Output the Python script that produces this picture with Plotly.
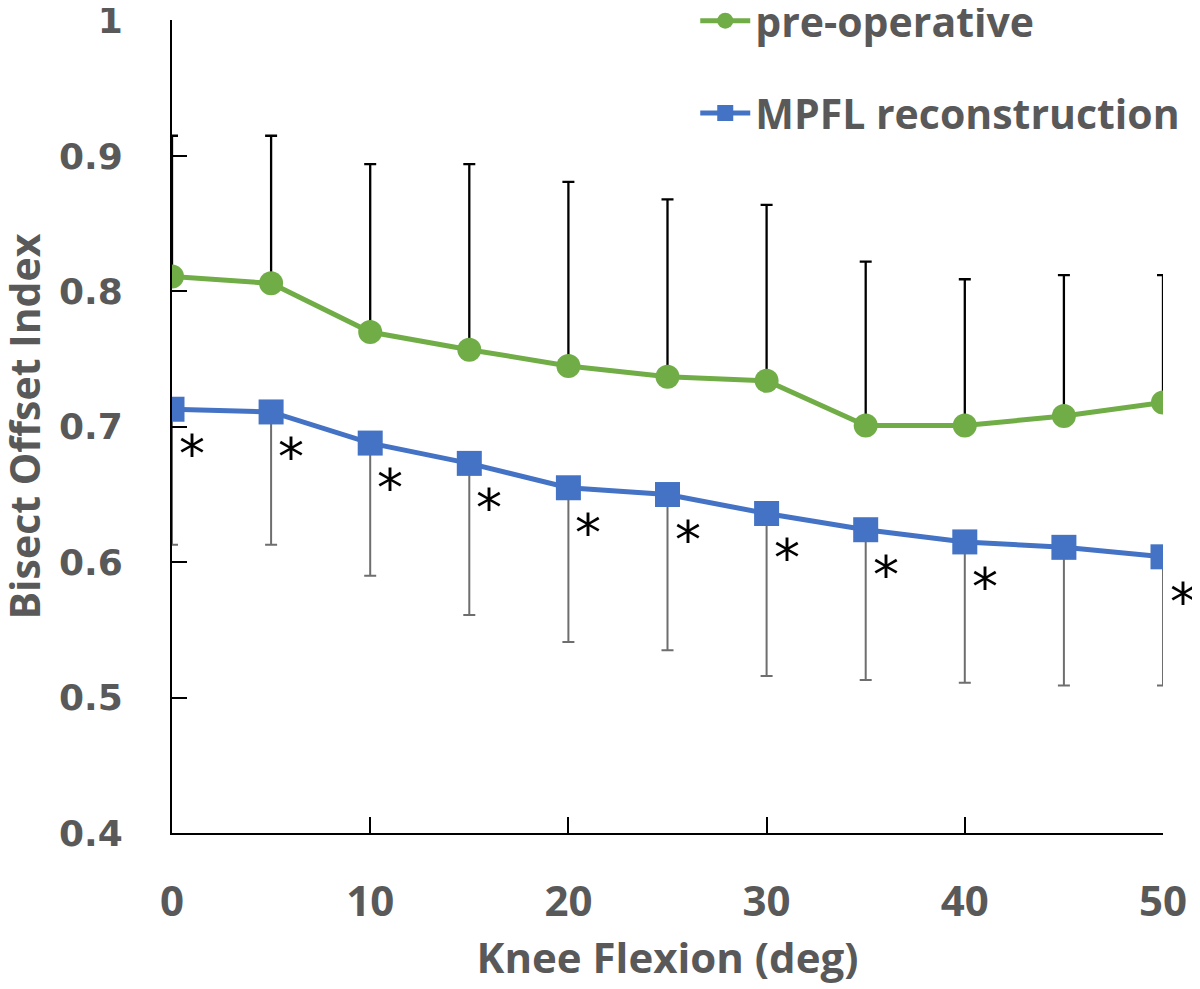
import plotly.graph_objects as go

# Data
angles = [0, 5, 10, 15, 20, 25, 30, 35, 40, 45, 50]
pre_mean = [0.811, 0.806, 0.770, 0.757, 0.745, 0.737, 0.734, 0.701, 0.701, 0.708, 0.718]
pre_upper = [0.915, 0.915, 0.894, 0.894, 0.881, 0.868, 0.864, 0.822, 0.809, 0.812, 0.812]
mpfl_mean = [0.713, 0.711, 0.688, 0.673, 0.655, 0.650, 0.636, 0.624, 0.615, 0.611, 0.604]
mpfl_lower = [0.613, 0.613, 0.590, 0.561, 0.541, 0.535, 0.516, 0.513, 0.511, 0.509, 0.509]
significant = [True, True, True, True, True, True, True, True, True, False, True]

x_ticks = [0, 10, 20, 30, 40, 50]
y_ticks = [0.4, 0.5, 0.6, 0.7, 0.8, 0.9, 1.0]
y_ticktext = ["0.4", "0.5", "0.6", "0.7", "0.8", "0.9", "1"]

x_title = "Knee Flexion (deg)"
y_title = "Bisect Offset Index"

GREEN = "#70AD47"
BLUE = "#4472C4"
GRAY_TXT = "#595959"
SANS = "'Open Sans', Lato, sans-serif"

pre_err = [u - m for u, m in zip(pre_upper, pre_mean)]
mpfl_err = [m - l for m, l in zip(mpfl_mean, mpfl_lower)]

fig = go.Figure()
fig.add_trace(go.Scatter(
    x=angles, y=pre_mean, mode="lines+markers", name="pre-operative",
    legendgroup="a",
    line=dict(color=GREEN, width=5),
    marker=dict(symbol="circle", size=24, color=GREEN),
    error_y=dict(type="data", symmetric=False, array=pre_err,
                 arrayminus=[0] * len(angles), color="black", thickness=2.3, width=6),
))
fig.add_trace(go.Scatter(
    x=angles, y=mpfl_mean, mode="lines+markers", name="MPFL reconstruction",
    legendgroup="b",
    line=dict(color=BLUE, width=5),
    marker=dict(symbol="square", size=25, color=BLUE),
    error_y=dict(type="data", symmetric=False, array=[0] * len(angles),
                 arrayminus=mpfl_err, color="#6e6e6e", thickness=2, width=6),
))

for a, m, s in zip(angles, mpfl_mean, significant):
    if s:
        fig.add_annotation(x=a, y=m, xref="x", yref="y", text="*", showarrow=False,
                           xshift=20, yshift=-45,
                           font=dict(family="DejaVu Sans", size=52, color="black"))

# y-axis title as a rotated annotation (to sit closer to the page edge)
fig.add_annotation(x=0, y=0.5, xref="paper", yref="paper", text=y_title, showarrow=False,
                   textangle=-90, xanchor="center", yanchor="middle", xshift=-149,
                   font=dict(family=SANS, size=41, color=GRAY_TXT, weight="bold"))

fig.update_layout(
    width=1192, height=981,
    margin=dict(l=164, r=37, t=12, b=156, autoexpand=False),
    paper_bgcolor="white", plot_bgcolor="white",
    showlegend=True,
    legend=dict(x=0.528, y=1.04, xanchor="left", yanchor="top",
                font=dict(family=SANS, size=41, color=GRAY_TXT, weight="bold"),
                tracegroupgap=36, itemwidth=50, bgcolor="rgba(0,0,0,0)"),
    xaxis=dict(range=[0, 50], tickvals=x_ticks, ticks="inside", ticklen=16, tickwidth=2,
               tickcolor="black", showline=True, linecolor="black", linewidth=2,
               showgrid=False, zeroline=False, ticklabelstandoff=31, automargin=False,
               ticklabeloverflow="allow",
               tickfont=dict(family=SANS, size=42, color=GRAY_TXT, weight="bold"),
               title=dict(text=x_title, standoff=8,
                          font=dict(family=SANS, size=42, color=GRAY_TXT, weight="bold"))),
    yaxis=dict(range=[0.4, 1.0005], tickvals=y_ticks, ticktext=y_ticktext, ticks="inside",
               ticklen=15, tickwidth=2, tickcolor="black", showline=True, linecolor="black",
               linewidth=2, showgrid=False, zeroline=False, ticklabelstandoff=40,
               automargin=False, ticklabeloverflow="allow",
               tickfont=dict(family="DejaVu Sans", size=36, color=GRAY_TXT, weight="bold")),
)

fig.write_html("out.html")
